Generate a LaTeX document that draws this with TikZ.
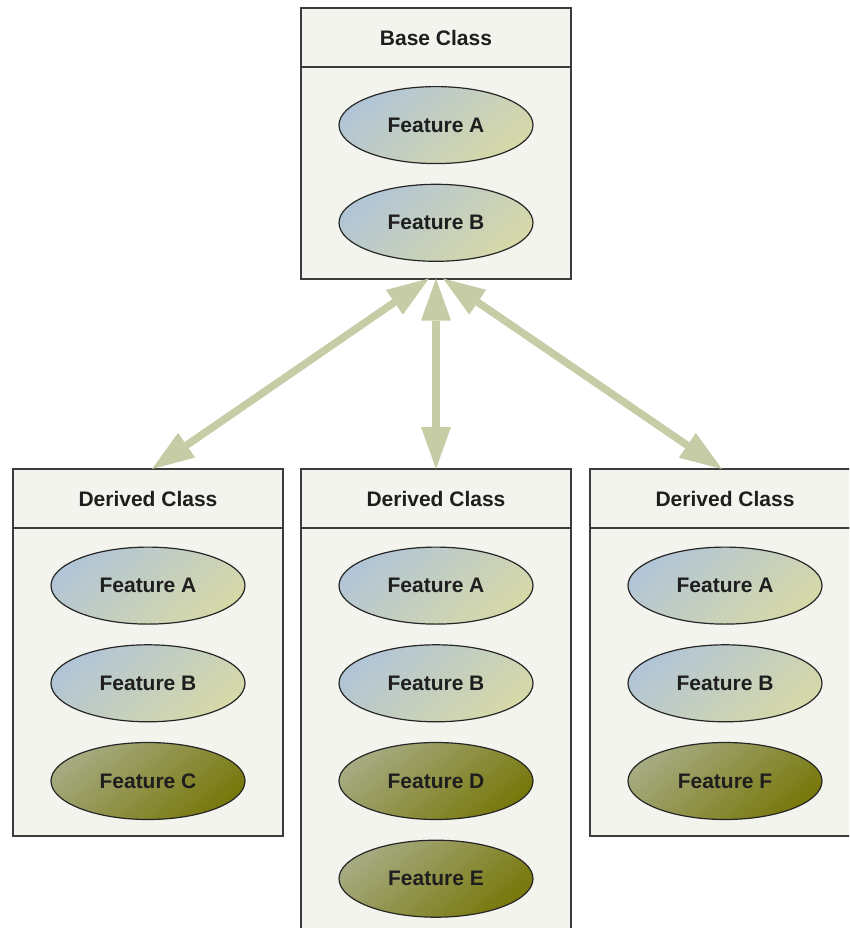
\documentclass[tikz,border=0pt]{standalone}
\usepackage{fontspec}
\setmainfont{Liberation Sans}
\usetikzlibrary{arrows.meta,positioning,shapes.geometric}

\definecolor{boxfill}{HTML}{F4F4EF}
\definecolor{boxline}{HTML}{3C3C3C}
\definecolor{linkcol}{HTML}{C6CDA6}
\definecolor{featblue}{HTML}{B2C5D6}
\definecolor{featmid}{HTML}{CAD1C0}
\definecolor{featkhaki}{HTML}{D6D8A8}
\definecolor{featgray}{HTML}{A6AA80}
\definecolor{featolive}{HTML}{8C8C1E}
\definecolor{featdark}{HTML}{78780C}
\definecolor{txt}{HTML}{1E1E1E}

\begin{document}
\begin{tikzpicture}[x=1pt, y=-1pt, node distance=19.5pt, font=\fontsize{21}{25}\selectfont\bfseries, text=txt,
  classhead/.style={rectangle, draw=boxline, line width=2pt, fill=boxfill, minimum width=270pt, minimum height=59pt, inner sep=0pt, outer sep=0pt},
  classbody/.style={rectangle, draw=boxline, line width=2pt, fill=boxfill, minimum width=270pt, inner sep=0pt, outer sep=0pt},
  feat/.style={ellipse, draw=black!85, line width=1.2pt, minimum width=194pt, minimum height=77pt, inner sep=0pt, top color=featblue, middle color=featmid, bottom color=featkhaki, shading angle=40},
  newfeat/.style={feat, top color=featgray, middle color=featolive, bottom color=featdark, shading angle=40},
  link/.style={{Triangle[length=42pt,width=30pt,line width=0pt]}-{Triangle[length=42pt,width=30pt,line width=0pt]}, line width=7.5pt, color=linkcol}]

\clip (0,0) rectangle (849,928);

% base class
\node [classhead] (basehd) at (436,38) {Base Class};
\node [classbody, minimum height=211pt, below=0pt of basehd] (basebd) {};
\node [feat, below=18.5pt of basehd] (baseA) {Feature A};
\node [feat, below=of baseA] (baseB) {Feature B};

% derived classes
\node [classhead] (lefthd) at (148,498.5) {Derived Class};
\node [classbody, minimum height=308pt, below=0pt of lefthd] (leftbd) {};
\node [feat, below=18.5pt of lefthd] (leftA) {Feature A};
\node [feat, below=of leftA] (leftB) {Feature B};
\node [newfeat, below=of leftB] (leftC) {Feature C};

\node [classhead] (midhd) at (436,498.5) {Derived Class};
\node [classbody, minimum height=405pt, below=0pt of midhd] (midbd) {};
\node [feat, below=18.5pt of midhd] (midA) {Feature A};
\node [feat, below=of midA] (midB) {Feature B};
\node [newfeat, below=of midB] (midD) {Feature D};
\node [newfeat, below=of midD] (midE) {Feature E};

\node [classhead] (righthd) at (725,498.5) {Derived Class};
\node [classbody, minimum height=308pt, below=0pt of righthd] (rightbd) {};
\node [feat, below=18.5pt of righthd] (rightA) {Feature A};
\node [feat, below=of rightA] (rightB) {Feature B};
\node [newfeat, below=of rightB] (rightF) {Feature F};

% inheritance links
\path [link]
([xshift=-7pt]basebd.south) edge ([xshift=4pt]lefthd.north)
(basebd.south) edge (midhd.north)
([xshift=7pt]basebd.south) edge ([xshift=-3pt]righthd.north);
\end{tikzpicture}
\end{document}
